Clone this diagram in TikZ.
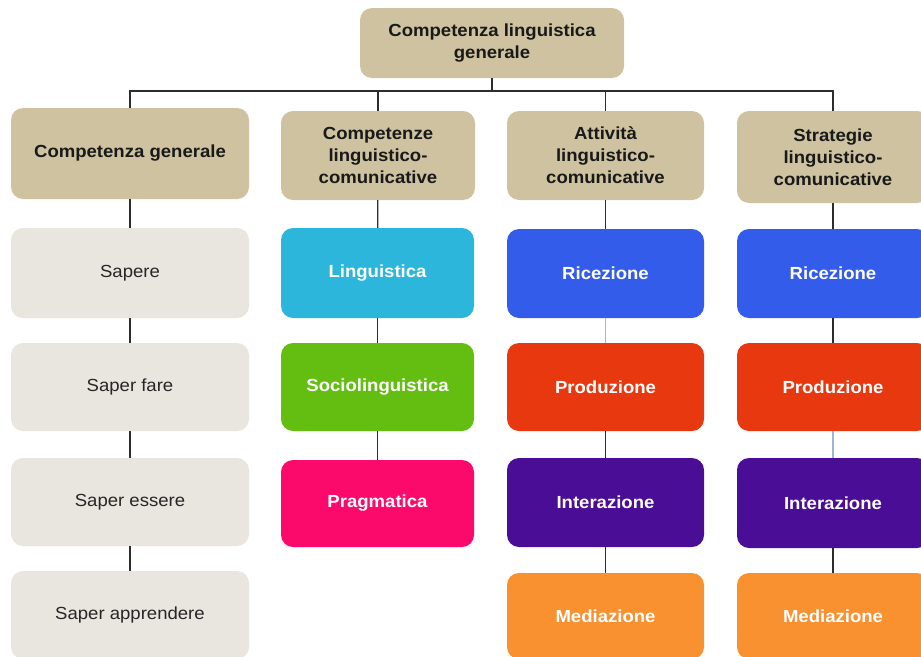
\documentclass[tikz,border=0pt]{standalone}
\usepackage{fontspec}
\setmainfont{Liberation Sans}[FakeStretch=1.06]
\definecolor{tan}{RGB}{206,194,160}
\definecolor{lgray}{RGB}{233,229,223}
\definecolor{ccyan}{RGB}{45,182,220}
\definecolor{cgreen}{RGB}{100,190,18}
\definecolor{cpink}{RGB}{251,10,108}
\definecolor{cblue}{RGB}{52,92,235}
\definecolor{cred}{RGB}{232,56,15}
\definecolor{cpurple}{RGB}{74,13,149}
\definecolor{corange}{RGB}{249,145,49}
\definecolor{lblue}{RGB}{155,184,217}
\definecolor{lnk}{RGB}{45,45,45}
\tikzset{
  boxbase/.style={rounded corners=12pt, inner sep=2pt, align=center, font=\fontsize{17.5}{22}\selectfont},
  hdr/.style={boxbase, fill=tan, text=black!90, font=\fontsize{17.5}{22}\selectfont\bfseries},
  sub/.style={boxbase, fill=lgray, text=black!85},
  col/.style={boxbase, fill=#1, text=white, font=\fontsize{17.5}{22}\selectfont\bfseries},
  lk/.style={draw=lnk, line width=1.2pt},
  lkb/.style={draw=lblue, line width=1.2pt}
}
\begin{document}
\begin{tikzpicture}[x=1pt,y=-1pt]
\useasboundingbox (0,0) rectangle (921,656);
\clip (0,0) rectangle (921,656);
\fill[white] (0,0) rectangle (921,656);

% top
\node[hdr, minimum width=264pt, minimum height=70pt] (top) at (492,43) {Competenza linguistica\\generale};
% headers
\node[hdr, minimum width=238pt, minimum height=91pt] (h1) at (130,153.5) {Competenza generale};
\node[hdr, minimum width=194pt, minimum height=89pt] (h2) at (378,155.5) {Competenze\\linguistico-\\comunicative};
\node[hdr, minimum width=197pt, minimum height=89pt] (h3) at (605.5,155.5) {Attività\\linguistico-\\comunicative};
\node[hdr, minimum width=192pt, minimum height=92pt] (h4) at (833,157) {Strategie\\linguistico-\\comunicative};

% column 1
\node[sub, minimum width=238pt, minimum height=90pt] (a1) at (130,273) {Sapere};
\node[sub, minimum width=238pt, minimum height=88pt] (a2) at (130,387) {Saper fare};
\node[sub, minimum width=238pt, minimum height=88pt] (a3) at (130,502) {Saper essere};
\node[sub, minimum width=238pt, minimum height=88pt] (a4) at (130,615) {Saper apprendere};

% column 2
\node[col=ccyan, minimum width=193pt, minimum height=90pt] (b1) at (377.5,273) {Linguistica};
\node[col=cgreen, minimum width=193pt, minimum height=88pt] (b2) at (377.5,387) {Sociolinguistica};
\node[col=cpink, minimum width=193pt, minimum height=87pt] (b3) at (377.5,503.5) {Pragmatica};

% column 3
\node[col=cblue, minimum width=197pt, minimum height=89pt] (c1) at (605.5,273.5) {Ricezione};
\node[col=cred, minimum width=197pt, minimum height=88pt] (c2) at (605.5,387) {Produzione};
\node[col=cpurple, minimum width=197pt, minimum height=89pt] (c3) at (605.5,502.5) {Interazione};
\node[col=corange, minimum width=197pt, minimum height=86pt] (c4) at (605.5,616) {Mediazione};

% column 4
\node[col=cblue, minimum width=192pt, minimum height=89pt] (d1) at (833,273.5) {Ricezione};
\node[col=cred, minimum width=192pt, minimum height=88pt] (d2) at (833,387) {Produzione};
\node[col=cpurple, minimum width=192pt, minimum height=90pt] (d3) at (833,503) {Interazione};
\node[col=corange, minimum width=192pt, minimum height=86pt] (d4) at (833,616) {Mediazione};

% bus
\coordinate (bus) at (492,91);
\draw[lk] (top) -- (bus);
\draw[lk] (h1.north) |- (bus) -| (h4.north);
\draw[lk] (h2.north) -- (h2.north |- bus);
\draw[lk] (h3.north) -- (h3.north |- bus);

% column links
\draw[lk] (h1) -- (a1);
\draw[lk] (a1) -- (a2);
\draw[lk] (a2) -- (a3);
\draw[lk] (a3) -- (a4);

\draw[lk] (h2) -- (b1);
\draw[lk] (b1) -- (b2);
\draw[lk] (b2) -- (b3);

\draw[lk] (h3) -- (c1);
\draw[lkb] (c1) -- (c2);
\draw[lk] (c2) -- (c3);
\draw[lk] (c3) -- (c4);

\draw[lk] (h4) -- (d1);
\draw[lk] (d1) -- (d2);
\draw[lkb] (d2) -- (d3);
\draw[lk] (d3) -- (d4);
\end{tikzpicture}
\end{document}
